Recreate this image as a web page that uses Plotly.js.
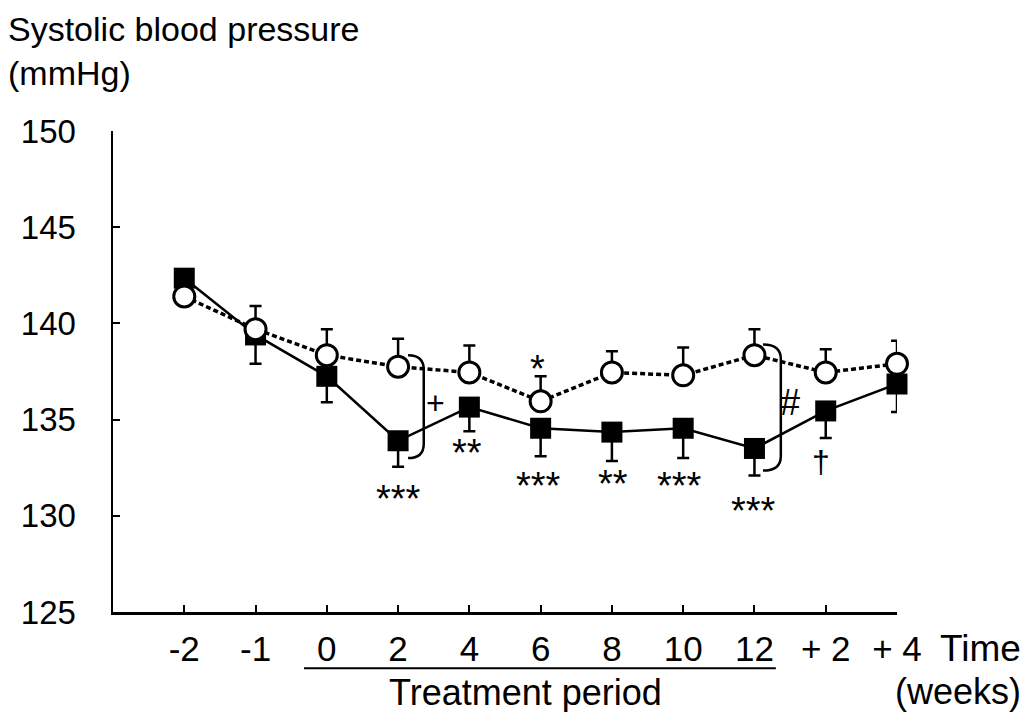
<!DOCTYPE html>
<html><head><meta charset="utf-8">
<script src="https://cdn.plot.ly/plotly-3.0.1.min.js"></script>
<style>html,body{margin:0;padding:0;background:#fff}</style>
</head><body><div id="chart" style="width:1027px;height:712px"></div>
<script>
// Time points (weeks)
const timeLabels = ['-2','-1','0','2','4','6','8','10','12','+ 2','+ 4'];
// Open circles (control, dashed line) mean and upper SE
const controlMean = [141.4, 139.7, 138.35, 137.75, 137.45, 135.95, 137.45, 137.3, 138.35, 137.45, 137.9];
const controlSEup = [0, 1.2, 1.35, 1.45, 1.4, 1.3, 1.1, 1.45, 1.35, 1.2, 1.2];
// Filled squares (treated, solid line) mean and lower SE
const treatedMean = [142.35, 139.4, 137.25, 133.9, 135.65, 134.55, 134.35, 134.55, 133.5, 135.45, 136.85];
const treatedSEdown = [0, 1.5, 1.35, 1.35, 1.25, 1.45, 1.5, 1.55, 1.4, 1.4, 1.45];
// Significance marks
const sigText = ['***', '+', '**', '*', '***', '**', '***', '***', '#', '\u2020'];
const sigX = [3.0, 3.52, 3.96, 4.96, 4.97, 6.01, 6.95, 7.98, 8.5, 8.94];
const sigY = [131.45, 135.86, 133.84, 138.2, 132.1, 132.2, 132.1, 130.8, 135.9, 132.8];

const xIdx = timeLabels.map((_, i) => i);
const FONT = 'Liberation Sans, Arial, Helvetica, sans-serif';
const NARROW = 'Liberation Sans Narrow, Arial Narrow, Liberation Sans, sans-serif';

const traces = [
  {
    x: xIdx, y: treatedMean, type: 'scatter', mode: 'lines+markers',
    line: {color: '#000', width: 2.5},
    marker: {symbol: 'square', size: 21, color: '#000'},
    error_y: {type: 'data', symmetric: false, array: treatedSEdown.map(() => 0), arrayminus: treatedSEdown,
              color: '#000', thickness: 2.5, width: 6},
    cliponaxis: false, hoverinfo: 'skip'
  },
  {
    x: xIdx, y: controlMean, type: 'scatter', mode: 'lines+markers',
    line: {color: '#000', width: 3.5, dash: '5px,3px'},
    marker: {symbol: 'circle', size: 21, color: '#fff', line: {color: '#000', width: 3}},
    error_y: {type: 'data', symmetric: false, array: controlSEup, arrayminus: controlSEup.map(() => 0),
              color: '#000', thickness: 2.5, width: 6},
    cliponaxis: false, hoverinfo: 'skip'
  }
];

function bracket(x0, x1, yTop, yBot) {
  const r = 0.75;
  return {
    type: 'path', xref: 'x', yref: 'y',
    path: `M ${x0},${yTop} Q ${x1},${yTop} ${x1},${yTop - r} L ${x1},${yBot + r} Q ${x1},${yBot} ${x0},${yBot}`,
    line: {color: '#000', width: 2.5}
  };
}

const shapes = [
  bracket(3.14, 3.36, controlMean[3] + 0.6, treatedMean[3] - 0.9),
  bracket(8.12, 8.37, controlMean[8] + 0.55, treatedMean[8] - 1.15),
  {type: 'line', xref: 'x', yref: 'paper', x0: 1.68, x1: 8.3, y0: -0.117, y1: -0.117,
   line: {color: '#000', width: 2}}
];

const annotations = sigText.map((t, i) => {
  const isStar = t.indexOf('*') >= 0;
  let size = 38, fam = FONT;
  if (t === '+') size = 32;
  if (t === '#') { size = 36; fam = NARROW; }
  if (t === '\u2020') size = 32;
  return {
    x: sigX[i], y: sigY[i], xref: 'x', yref: 'y', text: t, showarrow: false,
    font: {family: fam, size: size, color: '#000'},
    yshift: isStar ? -11 : 0
  };
});
annotations.push(
  {xref: 'paper', yref: 'paper', x: 0, xshift: -107, y: 1.255, text: 'Systolic blood pressure<br>(mmHg)',
   showarrow: false, align: 'left', xanchor: 'left', yanchor: 'top',
   font: {family: FONT, size: 34, color: '#000'}},
  {xref: 'paper', yref: 'paper', x: 0.526, y: -0.168, text: 'Treatment period', showarrow: false,
   font: {family: NARROW, size: 36, color: '#000'}, xanchor: 'center', yanchor: 'middle'},
  {xref: 'paper', yref: 'paper', x: 1.0, y: -0.075, xshift: 126, text: 'Time', showarrow: false,
   font: {family: NARROW, size: 37, color: '#000'}, xanchor: 'right', yanchor: 'middle'},
  {xref: 'paper', yref: 'paper', x: 1.0, y: -0.165, xshift: 126, text: '(weeks)', showarrow: false,
   font: {family: NARROW, size: 36, color: '#000'}, xanchor: 'right', yanchor: 'middle'}
);

const layout = {
  width: 1027, height: 712,
  paper_bgcolor: '#fff', plot_bgcolor: '#fff',
  margin: {l: 113, r: 130, t: 131, b: 100},
  showlegend: false,
  xaxis: {
    range: [-1, 10], tickvals: xIdx, ticktext: timeLabels,
    ticks: 'inside', ticklen: 7, tickwidth: 2, tickcolor: '#000',
    showline: true, linewidth: 2.5, linecolor: '#000',
    showgrid: false, zeroline: false,
    tickfont: {family: NARROW, size: 35, color: '#000'}, ticklabelstandoff: 4
  },
  yaxis: {
    range: [125, 150], tickvals: [125, 130, 135, 140, 145, 150],
    ticks: 'inside', ticklen: 7, tickwidth: 2, tickcolor: '#000',
    showline: true, linewidth: 2.5, linecolor: '#000',
    showgrid: false, zeroline: false,
    tickfont: {family: FONT, size: 33, color: '#000'}, ticklabelstandoff: 28
  },
  shapes: shapes,
  annotations: annotations
};

Plotly.newPlot('chart', traces, layout, {staticPlot: true, displayModeBar: false});
</script></body></html>
